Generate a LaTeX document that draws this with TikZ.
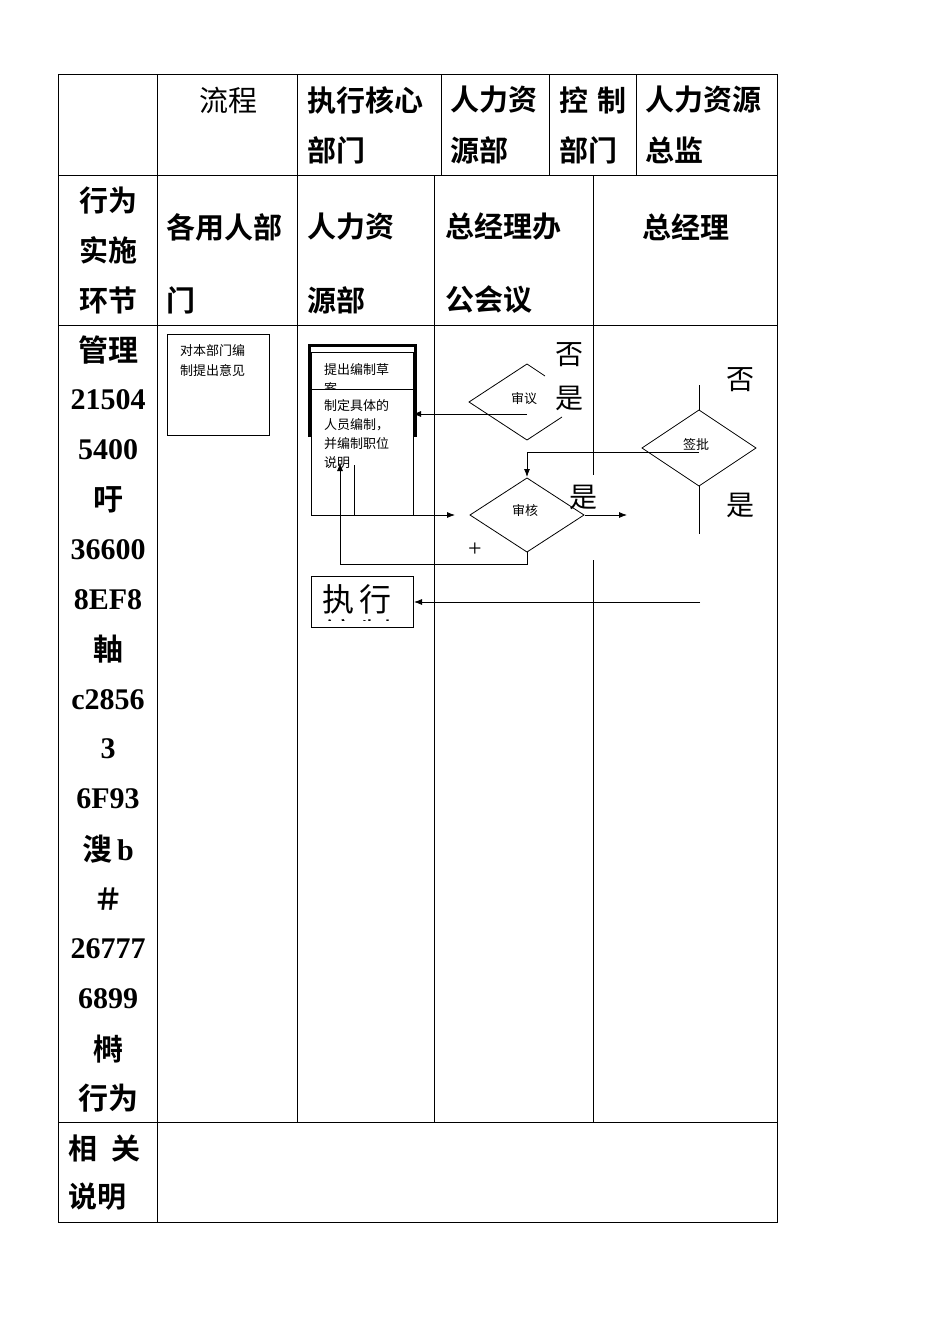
\documentclass[tikz,border=0pt]{standalone}
\usepackage{fontspec}
\setmainfont{Liberation Serif}
\newfontfamily\lsb{Liberation Serif Bold}
\newfontfamily\cjk{Noto Sans CJK SC}
\newfontfamily\cjkb{Noto Sans CJK SC Bold}
\usetikzlibrary{arrows.meta}
\begin{document}
\begin{tikzpicture}[x=1pt,y=-1pt,
 hd/.style={anchor=west,inner sep=0pt,font=\cjkb\fontsize{29}{29}\selectfont},
 hc/.style={inner sep=0pt,font=\cjkb\fontsize{29}{29}\selectfont},
 lc/.style={inner sep=0pt,font=\lsb\fontsize{30}{30}\selectfont},
 sm/.style={anchor=west,inner sep=0pt,font=\cjk\fontsize{13}{13}\selectfont},
 yn/.style={inner sep=0pt,font=\cjk\fontsize{28}{28}\selectfont},
 dia/.style={draw,line width=0.8pt},
 arr/.style={-{Latex[length=8pt,width=6pt]},line width=0.8pt},
 ln/.style={line width=0.8pt}]
\useasboundingbox (0,0) rectangle (950,1344);
\fill[white] (0,0) rectangle (950,1344);
% table
\draw[ln] (58,74) rectangle (777,1222);
\foreach \y in {175,325,1122} \draw[ln] (58,\y)--(777,\y);
\foreach \x in {157,297,441,549,636} \draw[ln] (\x,74)--(\x,175);
\foreach \x in {157,297,434,593} \draw[ln] (\x,175)--(\x,325);
\draw[ln] (157,325)--(157,1222);
\draw[ln] (297,325)--(297,1122);
\draw[ln] (434,325)--(434,1122);
\draw[ln] (593,325)--(593,475) (593,560)--(593,1122);
% headers
\node[hc,font=\cjk\fontsize{29}{29}\selectfont] (h1) at (228,100) {流程};
\node[hd] (h2a) at (307,100) {执行核心};
\node[hd] (h2b) at (307,150) {部门};
\node[hd] (h3a) at (450,100) {人力资};
\node[hd] (h3b) at (450,150) {源部};
\node[hd] (h4a) at (559,100) {控\,\,制};
\node[hd] (h4b) at (559,150) {部门};
\node[hd] (h5a) at (645,100) {人力资源};
\node[hd] (h5b) at (645,150) {总监};
\node[hc] (r1) at (108,200) {行为};
\node[hc] (r2) at (108,250) {实施};
\node[hc] (r3) at (108,300) {环节};
\node[hd] (c1a) at (166,227) {各用人部};
\node[hd] (c1b) at (166,300) {门};
\node[hd] (c2a) at (307,227) {人力资};
\node[hd] (c2b) at (307,300) {源部};
\node[hd] (c3a) at (445,227) {总经理办};
\node[hd] (c3b) at (445,300) {公会议};
\node[hc] (c4) at (686,227) {总经理};
\foreach \t [count=\i from 0] in {{\cjkb 管理},21504,5400,{\cjkb 吁},36600,8EF8,{\cjkb 軸},c2856,3,6F93,{{\cjkb 溲}\,b},{\cjkb ＃},26777,6899,{\cjkb 榯},{\cjkb 行为}}
  \node[lc] (L\i) at (108,{350+\i*49.9}) {\t};
\node[hd] (n1) at (68,1148) {相\,\,\,关};
\node[hd] (n2) at (68,1197) {说明};
% flow
\draw[ln] (167,334) rectangle (269,435);
\node[sm] (b1a) at (180,351) {对本部门编};
\node[sm] (b1b) at (180,370) {制提出意见};
\draw[line width=3pt] (309,437)--(309,345)--(415,345)--(415,437);
\draw[ln] (311,352) rectangle (413,389);
\begin{scope}
\clip (311,352) rectangle (413,389);
\node[sm] (b2a) at (324,370) {提出编制草};
\node[sm] (b2b) at (324,389) {案};
\end{scope}
\draw[ln,fill=white] (311,389) rectangle (413,515);
\coordinate (b3) at (413,414);
\node[sm] (t1) at (324,406) {制定具体的};
\node[sm] (t2) at (324,425) {人员编制，};
\node[sm] (t3) at (324,444) {并编制职位};
\node[sm] (t4) at (324,463) {说明};
\draw[dia] (545,376)--(527,364)--(469,402)--(527,440)--(562,417);
\node[inner sep=0pt,font=\cjk\fontsize{13}{13}\selectfont] (d1) at (524,399) {审议};
\draw[dia] (642,448)--(699,410)--(756,448)--(699,486)--cycle;
\node[inner sep=0pt,font=\cjk\fontsize{13}{13}\selectfont] (d2) at (696,444) {签批};
\draw[ln] (699,385)--(699,410) (699,486)--(699,534);
\draw[dia] (470,515)--(527,478)--(584,515)--(527,552)--cycle;
\node[inner sep=0pt,font=\cjk\fontsize{13}{13}\selectfont] (d3) at (525,511) {审核};
\draw[arr] (527,414)--(b3);
\draw[arr] (699,452)--(527,452)--(527,477);
\draw[arr] (354,465)--(354,515)--(455,515);
\draw[arr] (585,515)--(627,515);
\draw[arr] (527,552)--(527,564)--(340,564)--(340,463);
\node[inner sep=0pt,font=\fontsize{24}{24}\selectfont] (pl) at (475,550) {+};
\node[yn] (y1) at (569,355) {否};
\node[yn] (y2) at (569,398) {是};
\node[yn] (y3) at (583,497) {是};
\node[yn] (y4) at (740,380) {否};
\node[yn] (y5) at (740,505) {是};
\draw[ln] (311,576) rectangle (413,627);
\begin{scope}
\clip (311,576) rectangle (413,620);
\node[anchor=west,inner sep=0pt,font=\cjk\fontsize{32}{32}\selectfont] (ex1) at (322,599) {执\,行};
\node[anchor=west,inner sep=0pt,font=\cjk\fontsize{32}{32}\selectfont] (ex2) at (322,634) {编\,制};
\end{scope}
\draw[arr] (700,602)--(414,602);
\end{tikzpicture}
\end{document}
